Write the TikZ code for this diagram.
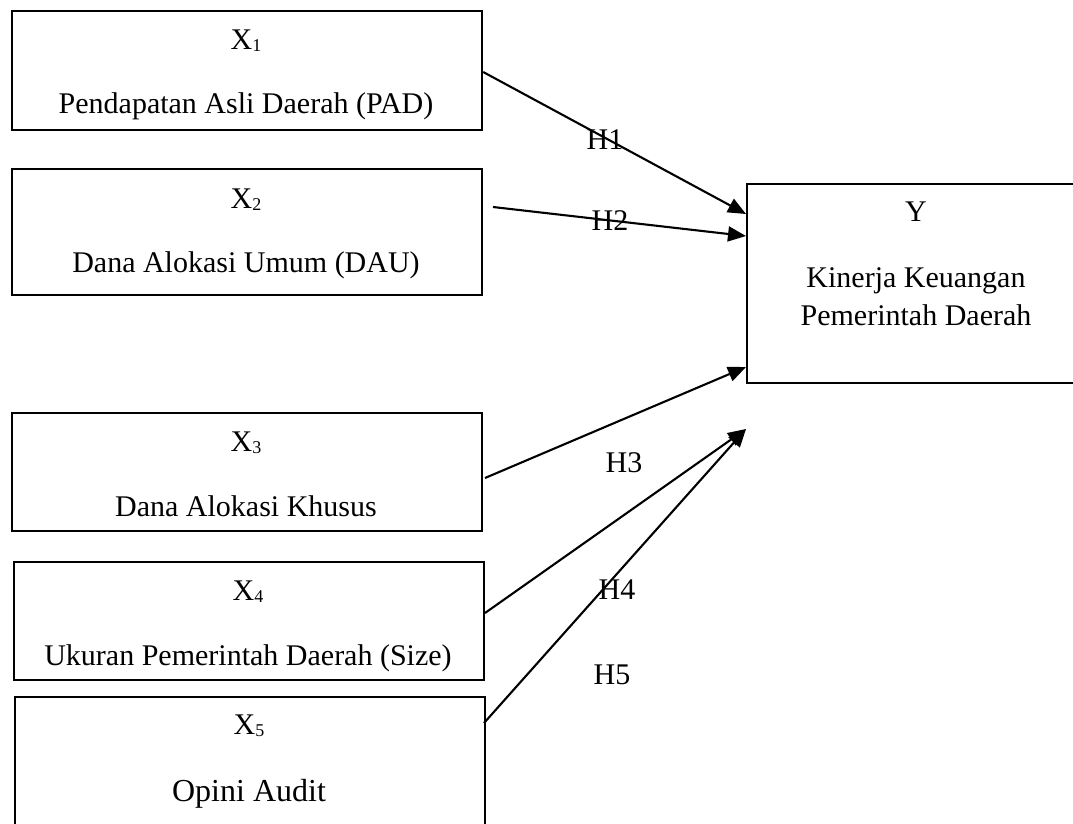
\documentclass[tikz,border=0pt]{standalone}
\usepackage{fontspec}
\setmainfont{Liberation Serif}
\usetikzlibrary{arrows.meta}
\newcommand\subdig[1]{\raisebox{-2pt}{\fontsize{18}{18}\selectfont #1}}
\begin{document}
\begin{tikzpicture}[x=1pt,y=-1pt,
  box/.style={draw,line width=2.2pt,rectangle,anchor=north west,inner sep=0pt},
  txt/.style={anchor=base,inner sep=0pt,font=\fontsize{30}{34}\selectfont},
  big/.style={anchor=base,inner sep=0pt,font=\fontsize{32}{36}\selectfont},
  conn/.style={line width=2.1pt,-{Triangle[length=18pt,width=15pt]}}]
\useasboundingbox (0,0) rectangle (1073,823);
\clip (0,0) rectangle (1073,823);
% boxes
\node[box,minimum width=470pt,minimum height=119pt] (b1) at (11,10) {};
\node[box,minimum width=470pt,minimum height=126pt] (b2) at (11,168) {};
\node[box,minimum width=470pt,minimum height=118pt] (b3) at (11,412) {};
\node[box,minimum width=470pt,minimum height=118pt] (b4) at (13,561) {};
\node[box,minimum width=470pt,minimum height=200pt] (b5) at (14,696) {};
\node[box,minimum width=400pt,minimum height=199pt] (yb) at (746,183) {};
% texts
\node[txt] (t1a) at (246,49) {X\subdig{1}};
\node[txt] (t1b) at (246,113) {Pendapatan Asli Daerah (PAD)};
\node[txt] (t2a) at (246,208) {X\subdig{2}};
\node[txt] (t2b) at (246,272) {Dana Alokasi Umum (DAU)};
\node[txt] (t3a) at (246,451) {X\subdig{3}};
\node[txt] (t3b) at (246,516) {Dana Alokasi Khusus};
\node[txt] (t4a) at (248,600) {X\subdig{4}};
\node[txt] (t4b) at (248,665) {Ukuran Pemerintah Daerah (Size)};
\node[txt] (t5a) at (249,734) {X\subdig{5}};
\node[big] (t5b) at (249,801) {Opini Audit};
\node[txt] (ya) at (916,221) {Y};
\node[txt] (yb1) at (916,287) {Kinerja Keuangan};
\node[txt] (yb2) at (916,325) {Pemerintah Daerah};
% connector endpoints
\coordinate (s2) at (493,207);
\coordinate (s3) at (485,478);
\coordinate (s4) at (485,613);
\coordinate (s5) at (484,723);
\coordinate (e1) at (746,214);
\coordinate (e2) at (746,236);
\coordinate (e3) at (746,367);
\coordinate (e45) at (746,429);
% connectors
\draw[conn] (b1.east |- 0,72) -- (e1);
\draw[conn] (s2) -- (e2);
\draw[conn] (s3) -- (e3);
\draw[conn] (s4) -- (e45);
\draw[conn] (s5) -- (e45);
% labels
\node[txt] (h1) at (605,149) {H1};
\node[txt] (h2) at (610,230) {H2};
\node[txt] (h3) at (624,472) {H3};
\node[txt] (h4) at (617,599) {H4};
\node[txt] (h5) at (612,684) {H5};
\end{tikzpicture}
\end{document}
